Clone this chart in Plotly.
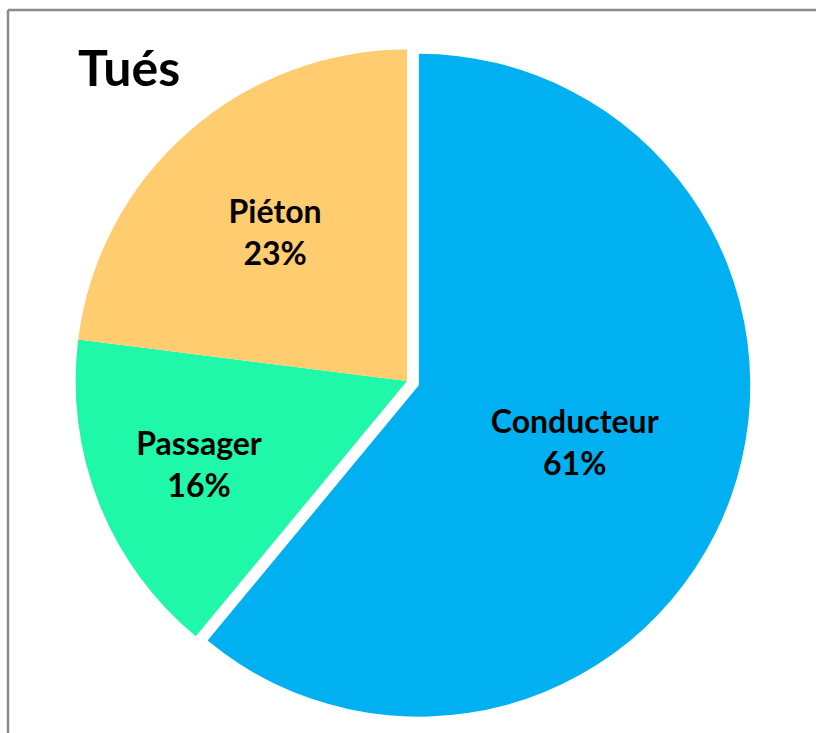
import plotly.graph_objects as go

labels = ["Conducteur", "Passager", "Piéton"]
values = [61, 16, 23]
colors = ["#00B0F0", "#1FF8A8", "#FFCC6F"]
pulls = [0.038, 0, 0]

W, H = 816, 733

fig = go.Figure(go.Pie(
    labels=labels,
    values=values,
    sort=False,
    direction="clockwise",
    rotation=0,
    pull=pulls,
    marker=dict(colors=colors, line=dict(width=0)),
    texttemplate="%{label}<br>%{value}%",
    textposition="inside",
    insidetextorientation="horizontal",
    textfont=dict(family="Lato", size=32, color="black", weight="bold"),
    showlegend=False,
    hoverinfo="label+percent",
    domain=dict(x=[63 / W, 751 / W], y=[1 - 725 / H, 1 - 37 / H]),
))

border = dict(color="#8a8a8a", width=2.5)
fig.update_layout(
    width=W, height=H,
    margin=dict(l=0, r=0, t=0, b=0),
    paper_bgcolor="white",
    plot_bgcolor="white",
    title=dict(text="Tués", x=78 / W, xanchor="left", xref="paper",
               y=1 - 51 / H, yanchor="top", yref="container",
               font=dict(family="Lato", size=50, color="black", weight="bold")),
    shapes=[
        dict(type="line", xref="paper", yref="paper",
             x0=8 / W, x1=1.0, y0=1 - 10 / H, y1=1 - 10 / H, line=border, layer="above"),
        dict(type="line", xref="paper", yref="paper",
             x0=8 / W, x1=8 / W, y0=0, y1=1 - 10 / H, line=border, layer="above"),
    ],
)

fig.write_html(
    "out.html",
    config={"displayModeBar": False},
    post_script=(
        "document.body.style.margin='0';"
        "document.body.style.overflow='hidden';"
        "document.documentElement.style.overflow='hidden';"
    ),
)
